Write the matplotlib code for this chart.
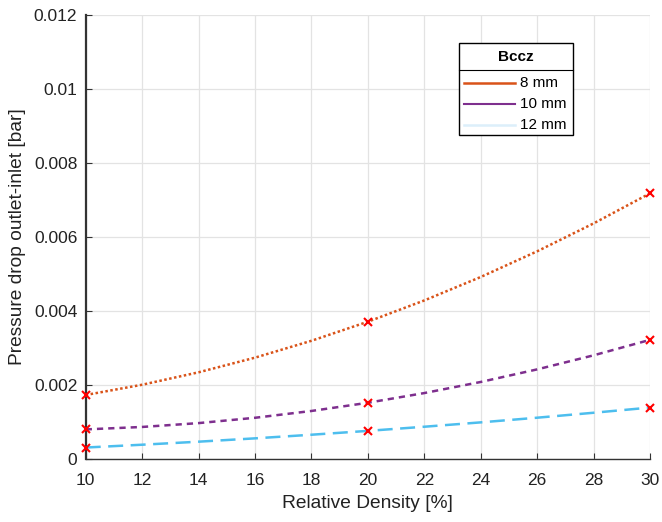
import matplotlib
matplotlib.use("Agg")
import matplotlib.pyplot as plt
from matplotlib.lines import Line2D
from matplotlib.patches import Rectangle

plt.rcParams['font.family'] = ['Liberation Sans', 'DejaVu Sans']

# measured points
x_pts = [10, 20, 30]
pts_8mm = [0.00173, 0.00371, 0.00718]
pts_10mm = [0.00080, 0.00152, 0.00322]
pts_12mm = [0.00031, 0.00076, 0.00139]

# fitted curves
x_curve = [10, 12, 14, 16, 18, 20, 22, 24, 26, 28, 30]
curve_8mm = [0.00173, 0.002007, 0.002343, 0.002739, 0.003195, 0.00371,
             0.004285, 0.004919, 0.005613, 0.006367, 0.00718]
curve_10mm = [0.00080, 0.000866, 0.000970, 0.001114, 0.001298, 0.00152,
              0.001782, 0.002082, 0.002422, 0.002802, 0.00322]
curve_12mm = [0.00031, 0.000386, 0.000468, 0.000558, 0.000656, 0.00076,
              0.000872, 0.000990, 0.001116, 0.001250, 0.00139]

labels = ['8 mm', '10 mm', '12 mm']
legend_title = 'Bccz'
xticks = [10, 12, 14, 16, 18, 20, 22, 24, 26, 28, 30]
yticks = [0, 0.002, 0.004, 0.006, 0.008, 0.01, 0.012]
yticklabels = ['0', '0.002', '0.004', '0.006', '0.008', '0.01', '0.012']

c8, c10, c12 = '#D95319', '#7E2F8E', '#4DBEEE'
c12_legend = '#dcefFA'

W, H = 662, 522
fig = plt.figure(figsize=(W / 100, H / 100), dpi=100)
ax = fig.add_axes([85.7 / W, 1 - 459 / H, (650 - 85.7) / W, (459 - 15) / H])

ax.plot(x_curve, curve_8mm, color=c8, lw=1.8, linestyle=(0, (1, 1)))
ax.plot(x_curve, curve_10mm, color=c10, lw=1.8, linestyle=(0, (2.5, 2)))
ax.plot(x_curve, curve_12mm, color=c12, lw=1.8, linestyle=(0, (6, 3)))
for pts in (pts_8mm, pts_10mm, pts_12mm):
    ax.plot(x_pts, pts, linestyle='none', marker='x', color='red',
            markersize=6, markeredgewidth=1.5, clip_on=False, zorder=5)

ax.set_xlim(10, 30)
ax.set_ylim(0, 0.012)
ax.set_xticks(xticks)
ax.set_yticks(yticks)
ax.set_yticklabels(yticklabels)
ax.grid(True, color='#e3e3e3', linewidth=0.9)
ax.set_axisbelow(True)
for s in ('top', 'right'):
    ax.spines[s].set_visible(False)
for s in ('left', 'bottom'):
    ax.spines[s].set_color('#333333')
ax.spines['left'].set_linewidth(1.6)
ax.spines['bottom'].set_linewidth(1.0)
ax.tick_params(direction='in', length=4, labelsize=12.5, colors='#333333',
               labelcolor='#222222')
ax.tick_params(axis='x', pad=10)
ax.tick_params(axis='y', pad=6)
ax.set_xlabel('Relative Density [%]', fontsize=13.8, color='#222222', labelpad=5)
ax.set_ylabel('Pressure drop outlet-inlet [bar]', fontsize=13.8, color='#222222',
              labelpad=6)

# manual legend box (pixel layout from the reference)
def fx(px):
    return px / W

def fy(py):
    return 1 - py / H

fig.add_artist(Rectangle((fx(459), fy(135)), fx(573) - fx(459), fy(43) - fy(135),
                         transform=fig.transFigure, facecolor='white',
                         edgecolor='black', lw=1.0, zorder=10))
fig.add_artist(Line2D([fx(459), fx(573)], [fy(70), fy(70)], color='black', lw=0.8,
                      transform=fig.transFigure, zorder=11))
fig.text(fx(516), fy(57), legend_title, ha='center', va='center', fontsize=11,
         fontweight='bold', zorder=12)
for lab, col, py, lw in zip(labels, [c8, c10, c12_legend], [83, 104, 125],
                            [1.8, 1.5, 1.8]):
    fig.add_artist(Line2D([fx(464), fx(515)], [fy(py), fy(py)], color=col, lw=lw,
                          transform=fig.transFigure, zorder=12))
    fig.text(fx(520), fy(py), lab, ha='left', va='center', fontsize=11, zorder=12)

fig.savefig('out.png', dpi=100)
